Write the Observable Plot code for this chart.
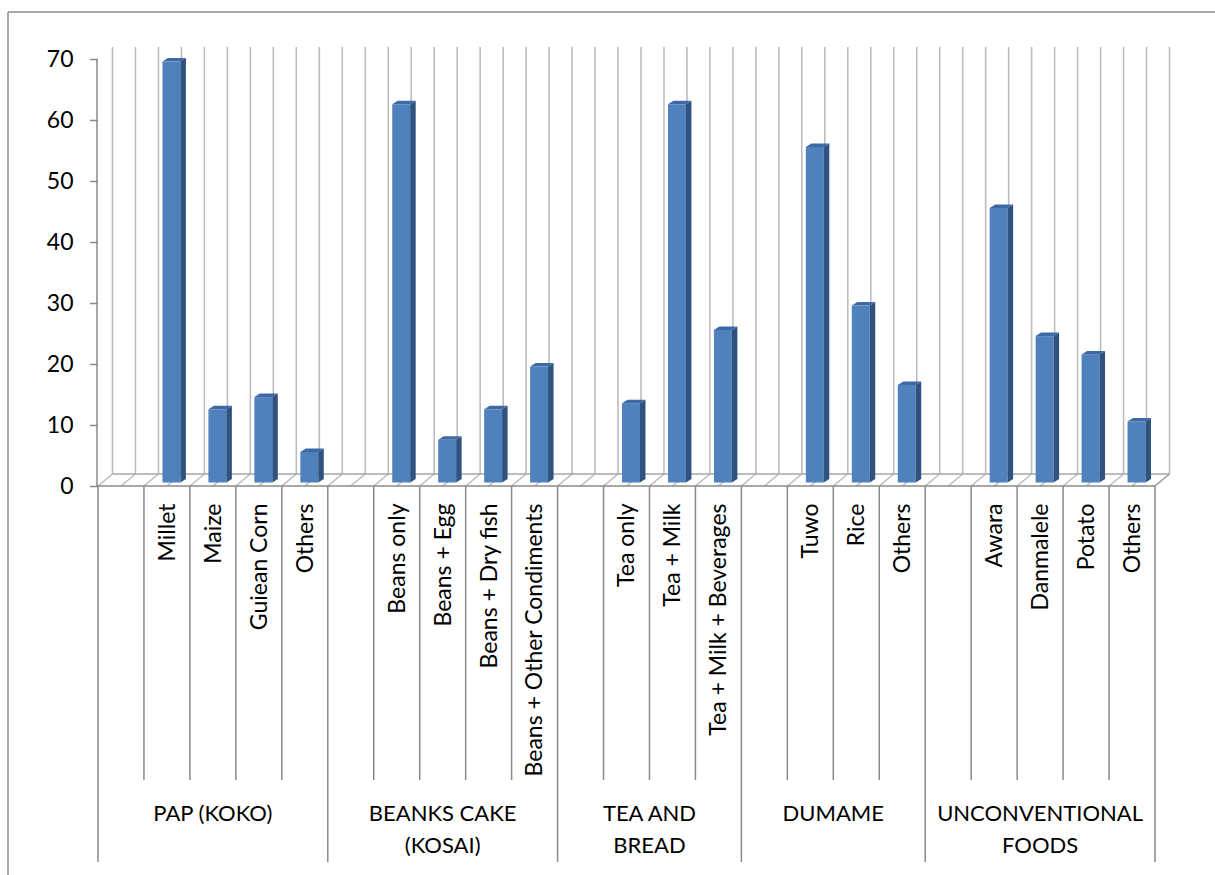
<!DOCTYPE html>
<html>
<head>
<meta charset="utf-8">
<script src="https://cdn.jsdelivr.net/npm/d3@7"></script>
<script src="https://cdn.jsdelivr.net/npm/@observablehq/plot@0.6"></script>
<style>
  html, body { margin: 0; padding: 0; background: #ffffff; }
  #chart svg { display: block; }
</style>
</head>
<body>
<div id="chart"></div>
<script>
// Breakfast food choices by food group (percent of respondents).
// Each group starts with a blank category, as in the source table.
const groupNames = ["PAP (KOKO)", "BEANKS CAKE\n(KOSAI)", "TEA AND\nBREAD", "DUMAME", "UNCONVENTIONAL\nFOODS"];

const papItems = ["", "Millet", "Maize", "Guiean Corn", "Others"];
const papValues = [null, 69, 12, 14, 5];

const kosaiItems = ["", "Beans only", "Beans + Egg", "Beans + Dry fish", "Beans + Other Condiments"];
const kosaiValues = [null, 62, 7, 12, 19];

const teaItems = ["", "Tea only", "Tea + Milk", "Tea + Milk + Beverages"];
const teaValues = [null, 13, 62, 25];

const dumameItems = ["", "Tuwo", "Rice", "Others"];
const dumameValues = [null, 55, 29, 16];

const unconvItems = ["", "Awara", "Danmalele", "Potato", "Others"];
const unconvValues = [null, 45, 24, 21, 10];

const yTicks = [0, 10, 20, 30, 40, 50, 60, 70];

// ---- table built from the arrays above ----
const groupItems = [papItems, kosaiItems, teaItems, dumameItems, unconvItems];
const groupValues = [papValues, kosaiValues, teaValues, dumameValues, unconvValues];
const rows = [];
groupNames.forEach((g, gi) => {
  groupItems[gi].forEach((item, ii) => {
    rows.push({group: g, item, id: `${gi}:${ii}`, value: groupValues[gi][ii]});
  });
});
const slotIds = rows.map(d => d.id);
const bars = rows.filter(d => d.value != null);

// ---- styling ----
const FONT = "Lato, 'Open Sans', sans-serif";
const GRID = "#bcbcbc";
const AXIS = "#8a8a8a";
const FRONT = "#4f81bd", SIDE = "#30527f", TOP = "#3d6aa6";
const DEPTH = [14.5, -12];       // floor/back-wall offset of the 3-D box
const BAR_SHIFT = [4.5, -3.5];   // bars sit a little into the box
const BAR_SIDE = [5.5, -3.5];    // visible depth of each column
const INSET_L = 14, INSET_R = 14;

const W = 1215, H = 875;
const mLeft = 98, mRight = 60, mTop = 59, mBottom = H - 486;

const ns = "http://www.w3.org/2000/svg";
function el(name, attrs, parent) {
  const e = document.createElementNS(ns, name);
  for (const k in attrs) e.setAttribute(k, attrs[k]);
  if (parent) parent.appendChild(e);
  return e;
}
function bandOf(x) {
  return x.bandwidth ? x.bandwidth() : (x(slotIds[1]) - x(slotIds[0]));
}

// chart-area border (top and left edges)
function border(index, scales, values, dims) {
  const g = el("g", {stroke: "#8c8c8c", "stroke-width": 1.5, fill: "none"});
  el("line", {x1: 8, y1: 12, x2: dims.width, y2: 12}, g);
  el("line", {x1: 8, y1: 12, x2: 8, y2: dims.height}, g);
  return g;
}

// back wall verticals and floor of the 3-D box
function box(index, {x, y}) {
  const g = el("g", {fill: "none"});
  const bw = bandOf(x);
  const pos = [];
  slotIds.forEach(id => { pos.push(x(id), x(id) + bw / 2); });
  pos.push(x(slotIds[slotIds.length - 1]) + bw);
  const y0 = y(0), yTop = y(yTicks[yTicks.length - 1]);
  const [dx, dy] = DEPTH;
  const grid = el("g", {stroke: GRID, "stroke-width": 1.6}, g);
  pos.forEach(p => {
    el("line", {x1: p + dx, y1: y0 + dy, x2: p + dx, y2: yTop + dy}, grid);
    el("line", {x1: p, y1: y0, x2: p + dx, y2: y0 + dy}, grid);
  });
  const first = pos[0], last = pos[pos.length - 1];
  el("line", {x1: first + dx, y1: y0 + dy, x2: last + dx, y2: y0 + dy, stroke: "#a6a6a6", "stroke-width": 1.6}, g);
  el("line", {x1: last, y1: y0, x2: last + dx, y2: y0 + dy, stroke: "#a6a6a6", "stroke-width": 1.6}, g);
  return g;
}

// side and top faces of each column
function faces(index, {x, y}) {
  const g = el("g", {});
  const bw = bandOf(x);
  const [sx, sy] = BAR_SHIFT, [ox, oy] = BAR_SIDE;
  bars.forEach(d => {
    const xl = x(d.id) + INSET_L + sx, xr = x(d.id) + bw - INSET_R + sx;
    const yb = y(0) + sy, yt = y(d.value) + sy;
    el("polygon", {fill: SIDE, points: `${xr},${yb} ${xr},${yt} ${xr + ox},${yt + oy} ${xr + ox},${yb + oy}`}, g);
    el("polygon", {fill: TOP, points: `${xl},${yt} ${xr},${yt} ${xr + ox},${yt + oy} ${xl + ox},${yt + oy}`}, g);
  });
  return g;
}

// value axis line, floor front edge and category divider lines
function frame(index, {x, y}) {
  const g = el("g", {stroke: AXIS, "stroke-width": 1.5, fill: "none"});
  const bw = bandOf(x);
  const y0 = y(0);
  const xStart = x(slotIds[0]), xEnd = x(slotIds[slotIds.length - 1]) + bw;
  el("line", {x1: xStart - 1, y1: y0, x2: xStart - 1, y2: y(yTicks[yTicks.length - 1])}, g);
  el("line", {x1: xStart - 1, y1: y0, x2: xEnd, y2: y0}, g);
  rows.forEach((d, i) => {
    const isGroupStart = i === 0 || rows[i - 1].group !== d.group;
    el("line", {x1: x(d.id), y1: y0, x2: x(d.id), y2: y0 + (isGroupStart ? 376 : 294)}, g);
  });
  el("line", {x1: xEnd, y1: y0, x2: xEnd, y2: y0 + 376}, g);
  return g;
}

// group names centred under their categories
function groupLabels(index, {x, y}) {
  const g = el("g", {fill: "#000", "font-family": FONT, "font-size": 22, "text-anchor": "middle"});
  const bw = bandOf(x);
  const y0 = y(0);
  groupNames.forEach(name => {
    const ids = rows.filter(d => d.group === name).map(d => d.id);
    const cx = (x(ids[0]) + x(ids[ids.length - 1]) + bw) / 2;
    name.split("\n").forEach((line, li) => {
      const t = el("text", {x: cx, y: y0 + 327 + li * 32, dy: "0.35em"}, g);
      t.textContent = line;
    });
  });
  return g;
}

const chart = Plot.plot({
  width: W,
  height: H,
  marginLeft: mLeft,
  marginRight: mRight,
  marginTop: mTop,
  marginBottom: mBottom,
  style: {fontFamily: FONT, background: "#ffffff", color: "#000"},
  x: {type: "band", domain: slotIds, padding: 0, round: false, axis: null},
  y: {domain: [0, 70], axis: null},
  marks: [
    border,
    box,
    Plot.barY(bars, {
      x: "id", y: "value", fill: FRONT,
      insetLeft: INSET_L, insetRight: INSET_R,
      dx: BAR_SHIFT[0], dy: BAR_SHIFT[1]
    }),
    faces,
    Plot.axisY({
      ticks: yTicks, tickSize: 8, tickPadding: 17, tickFormat: d3.format("d"),
      label: null, fontSize: 23, stroke: AXIS, strokeWidth: 1.5, fill: "#000"
    }),
    frame,
    Plot.text(bars, {
      x: "id", y: 0, text: "item", rotate: -90, textAnchor: "end",
      dy: 17, fontSize: 23, fill: "#000"
    }),
    groupLabels
  ]
});

document.getElementById("chart").appendChild(chart);
</script>
</body>
</html>
